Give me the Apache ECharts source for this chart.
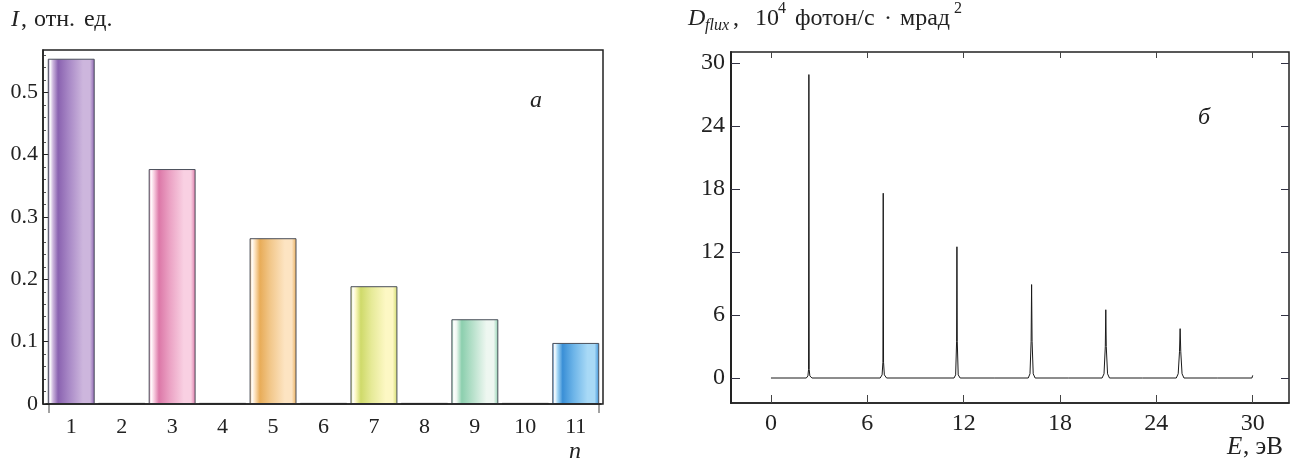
<!DOCTYPE html>
<html>
<head>
<meta charset="utf-8">
<script src="https://cdn.jsdelivr.net/npm/echarts@6/dist/echarts.min.js"></script>
<style>
  html, body { margin: 0; padding: 0; background: #fff; }
  #chart { width: 1293px; height: 463px; }
</style>
</head>
<body>
<div id="chart"></div>
<script>
// panel a: harmonic intensities
const harmonics = ['1', '2', '3', '4', '5', '6', '7', '8', '9', '10', '11']
const intensity = [0.554, 0, 0.377, 0, 0.266, 0, 0.189, 0, 0.136, 0, 0.098]
const barDark = ['#8a62b0', null, '#dc78a8', null, '#e8ac58', null, '#cfda6a', null, '#8ccfae', null, '#3a8fd6']
const barMid = ['#a888c6', null, '#eba2c4', null, '#f2c88c', null, '#e6ea98', null, '#b6e0ca', null, '#6cb4e8']
const barLight = ['#cdb6dd', null, '#f9d0e2', null, '#fde4c2', null, '#fdf8c4', null, '#eef7f1', null, '#a8d9f6']
const intensityTicks = [0, 0.1, 0.2, 0.3, 0.4, 0.5]

// panel b: flux spectrum
const energy = [
  0, 2.2, 2.3, 2.34, 2.36, 2.38, 2.42, 2.55,
  4.67, 4.7, 4.73,
  6.8, 6.92, 6.97, 6.99, 7.01, 7.06, 7.2,
  9.28, 9.31, 9.34,
  11.4, 11.5, 11.56, 11.58, 11.6, 11.66, 11.78,
  13.9, 13.93, 13.96,
  16.02, 16.13, 16.2, 16.23, 16.26, 16.33, 16.45,
  18.52, 18.55, 18.58,
  20.62, 20.74, 20.82, 20.85, 20.88, 20.96, 21.08,
  23.14, 23.17, 23.2,
  25.24, 25.36, 25.44, 25.48, 25.52, 25.6, 25.72,
  27.8, 27.83, 27.86,
  29.95, 30
]
const flux = [
  0, 0, 0.2, 0.8, 28.9, 0.8, 0.2, 0,
  0, 0.12, 0,
  0, 0.3, 1.5, 17.6, 1.5, 0.3, 0,
  0, 0.12, 0,
  0, 0.3, 3.5, 12.5, 3.5, 0.3, 0,
  0, 0.12, 0,
  0, 0.4, 3.5, 8.9, 3.5, 0.4, 0,
  0, 0.12, 0,
  0, 0.4, 3, 6.5, 3, 0.4, 0,
  0, 0.12, 0,
  0, 0.4, 2.5, 4.7, 2.5, 0.4, 0,
  0, 0.12, 0,
  0, 0.25
]
const energyTicks = [0, 6, 12, 18, 24, 30]
const fluxTicks = [0, 6, 12, 18, 24, 30]

const serif = '"Liberation Serif", "DejaVu Serif", serif'
const ink = '#222'

const barData = intensity.map((v, i) => {
  if (!barDark[i]) {
    return { value: v, itemStyle: { color: '#333', borderColor: '#333', borderWidth: 0.5 } }
  }
  return {
    value: v,
    itemStyle: {
      borderColor: '#4a4f5a',
      borderWidth: 1,
      color: new echarts.graphic.LinearGradient(0, 0, 1, 0, [
        { offset: 0, color: barDark[i] },
        { offset: 0.05, color: '#ffffff' },
        { offset: 0.11, color: barLight[i] },
        { offset: 0.22, color: barDark[i] },
        { offset: 0.45, color: barMid[i] },
        { offset: 0.75, color: barLight[i] },
        { offset: 0.9, color: barLight[i] },
        { offset: 1, color: barDark[i] },
      ]),
    },
  }
})

const spectrum = energy.map((e, i) => [e, flux[i]])

const chart = echarts.init(document.getElementById('chart'), null, { renderer: 'canvas' })

const hiddenLine = { show: false, onZero: false }

const option = {
  animation: false,
  backgroundColor: '#fff',
  textStyle: { fontFamily: serif },
  grid: [
    { left: 46, top: 50, width: 555, height: 354 },
    { left: 731, top: 52, width: 558, height: 351, show: true, borderColor: ink, borderWidth: 1.5, backgroundColor: 'transparent' },
  ],
  xAxis: [
    {
      type: 'category',
      gridIndex: 0,
      data: harmonics,
      boundaryGap: true,
      axisLine: { show: true, lineStyle: { color: ink, width: 1.5 } },
      axisTick: { show: false },
      axisLabel: { color: ink, fontSize: 22, fontFamily: serif, margin: 12 },
    },
    {
      type: 'value',
      gridIndex: 1,
      min: -2.49,
      max: 32.26,
      splitLine: { show: false },
      axisLine: { show: true, onZero: false, lineStyle: { color: ink, width: 1.5 } },
      axisTick: { show: true, inside: true, length: 8, customValues: energyTicks, lineStyle: { color: '#444' } },
      axisLabel: { show: true, color: ink, fontSize: 24, fontFamily: serif, margin: 9, customValues: energyTicks },
    },
    {
      type: 'value',
      gridIndex: 1,
      position: 'top',
      min: -2.49,
      max: 32.26,
      splitLine: { show: false },
      axisLine: hiddenLine,
      axisTick: { show: true, inside: true, length: 6, customValues: energyTicks, lineStyle: { color: '#444' } },
      axisLabel: { show: false },
    },
  ],
  yAxis: [
    {
      type: 'value',
      gridIndex: 0,
      offset: 3,
      min: 0,
      max: 0.568,
      interval: 0.1,
      splitLine: { show: false },
      axisLine: { show: true, onZero: false, lineStyle: { color: ink, width: 1.5 } },
      axisTick: { show: true, inside: true, length: 6, customValues: intensityTicks, lineStyle: { color: ink } },
      minorTick: { show: true, splitNumber: 5, length: 3, lineStyle: { color: '#555' } },
      axisLabel: {
        show: true, color: ink, fontSize: 22, fontFamily: serif, margin: 5,
        customValues: intensityTicks,
        formatter: (v) => (v === 0 ? '0' : v.toFixed(1)),
      },
    },
    {
      type: 'value',
      gridIndex: 1,
      min: -2.38,
      max: 31.05,
      splitLine: { show: false },
      axisLine: { show: true, onZero: false, lineStyle: { color: ink, width: 2 } },
      axisTick: { show: true, inside: true, length: 9, customValues: fluxTicks, lineStyle: { color: '#334' } },
      axisLabel: { show: true, color: ink, fontSize: 24, fontFamily: serif, margin: 6, customValues: fluxTicks },
    },
    {
      type: 'value',
      gridIndex: 1,
      position: 'right',
      min: -2.38,
      max: 31.05,
      splitLine: { show: false },
      axisLine: hiddenLine,
      axisTick: { show: true, inside: true, length: 8, customValues: fluxTicks, lineStyle: { color: '#334' } },
      axisLabel: { show: false },
    },
  ],
  series: [
    {
      type: 'bar',
      xAxisIndex: 0,
      yAxisIndex: 0,
      barCategoryGap: '7%',
      barMinHeight: 1,
      data: barData,
    },
    {
      type: 'line',
      xAxisIndex: 1,
      yAxisIndex: 1,
      data: spectrum,
      showSymbol: false,
      lineStyle: { color: '#1a1a1a', width: 1 },
    },
  ],
  graphic: [
    // frame of panel a
    { type: 'rect', shape: { x: 43, y: 50, width: 560, height: 354 }, style: { fill: 'none', stroke: ink, lineWidth: 1.5 }, silent: true, z: 10 },
    { type: 'line', shape: { x1: 49, y1: 404, x2: 49, y2: 413 }, style: { stroke: '#444', lineWidth: 1 } },
    { type: 'line', shape: { x1: 599, y1: 404, x2: 599, y2: 413 }, style: { stroke: '#444', lineWidth: 1 } },

    { type: 'text', left: 11, top: 8, style: { text: 'I', font: 'italic 24px ' + serif, fill: ink } },
    { type: 'text', left: 21, top: 8, style: { text: ',', font: '24px ' + serif, fill: ink } },
    { type: 'text', left: 34, top: 8, style: { text: 'отн.', font: '24px ' + serif, fill: ink } },
    { type: 'text', left: 84, top: 8, style: { text: 'ед.', font: '24px ' + serif, fill: ink } },
    { type: 'text', left: 530, top: 89, style: { text: 'а', font: 'italic 24px ' + serif, fill: ink } },
    { type: 'text', left: 569, top: 440, style: { text: 'n', font: 'italic 24px ' + serif, fill: ink } },

    { type: 'text', left: 688, top: 7, style: { text: 'D', font: 'italic 24px ' + serif, fill: ink } },
    { type: 'text', left: 705, top: 18, style: { text: 'flux', font: 'italic 16px ' + serif, fill: ink } },
    { type: 'text', left: 733, top: 7, style: { text: ',', font: '24px ' + serif, fill: ink } },
    { type: 'text', left: 755, top: 7, style: { text: '10', font: '24px ' + serif, fill: ink } },
    { type: 'text', left: 778, top: 1, style: { text: '4', font: '16px ' + serif, fill: ink } },
    { type: 'text', left: 795, top: 7, style: { text: 'фотон/с', font: '24px ' + serif, fill: ink } },
    { type: 'text', left: 884, top: 7, style: { text: '·', font: '24px ' + serif, fill: ink } },
    { type: 'text', left: 900, top: 7, style: { text: 'мрад', font: '24px ' + serif, fill: ink } },
    { type: 'text', left: 954, top: 1, style: { text: '2', font: '16px ' + serif, fill: ink } },
    { type: 'text', left: 1198, top: 106, style: { text: 'б', font: 'italic 24px ' + serif, fill: ink } },
    { type: 'text', left: 1227, top: 435, style: { text: 'E', font: 'italic 25px ' + serif, fill: ink } },
    { type: 'text', left: 1243, top: 435, style: { text: ', эВ', font: '25px ' + serif, fill: ink } },
  ],
}

chart.setOption(option)
</script>
</body>
</html>
